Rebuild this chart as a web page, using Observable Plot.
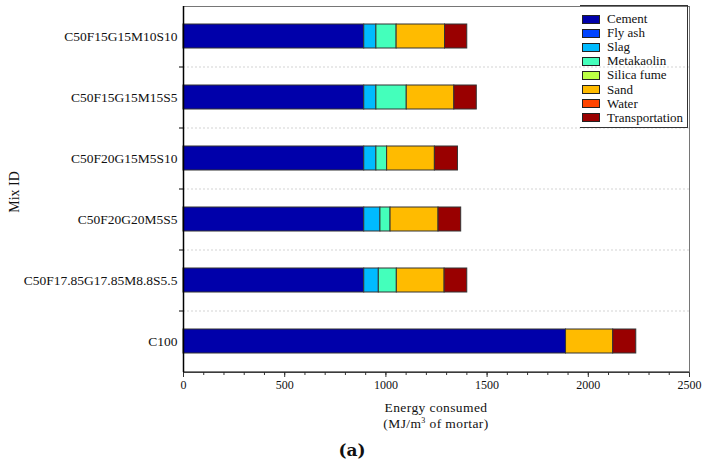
<!DOCTYPE html>
<html><head><meta charset="utf-8">
<script src="https://cdn.jsdelivr.net/npm/d3@7"></script>
<script src="https://cdn.jsdelivr.net/npm/@observablehq/plot@0.6"></script>
<style>
body{margin:0;background:#fff;}
#wrap{position:relative;width:708px;height:476px;font-family:"Liberation Serif","Times New Roman",serif;color:#111;overflow:hidden;}
#wrap svg{position:absolute;left:0;top:0;}
.lbl{position:absolute;white-space:nowrap;}
#legend{position:absolute;left:580px;top:5px;width:108px;height:123px;border:1px solid #333;border-left:none;box-sizing:border-box;}
.item{position:absolute;left:2px;height:14px;font-size:13px;line-height:14px;white-space:nowrap;}
.sw{display:inline-block;width:16px;height:7px;border:1px solid #222;vertical-align:middle;margin-right:7px;position:relative;top:-1px;}
</style></head><body><div id="wrap"></div>
<script>
const mixes = ["C50F15G15M10S10","C50F15G15M15S5","C50F20G15M5S10","C50F20G20M5S5","C50F17.85G17.85M8.8S5.5","C100"];
const components = ["Cement","Fly ash","Slag","Metakaolin","Silica fume","Sand","Water","Transportation"];
const colors = ["#0000aa","#0044ff","#00bbff","#44ffbb","#bbff44","#ffbb00","#ff4400","#990000"];
const cement         = [893, 893, 893, 893, 893, 1890];
const flyAsh         = [0, 0, 0, 0, 0, 0];
const slag           = [60, 60, 60, 80, 72, 0];
const metakaolin     = [100, 150, 53, 50, 89, 0];
const silicaFume     = [0, 0, 0, 0, 0, 0];
const sand           = [239, 235, 236, 237, 236, 233];
const water          = [0, 0, 0, 0, 0, 0];
const transportation = [110, 111, 114, 112, 112, 114];
const xTicks = [0, 500, 1000, 1500, 2000, 2500];
const xMinorTicks = d3.range(0, 2501, 100);

const series = [cement, flyAsh, slag, metakaolin, silicaFume, sand, water, transportation];
const rows = mixes.flatMap((m, i) => components.map((c, j) => ({mix: m, component: c, value: series[j][i]})))
  .filter(d => d.value > 0);

const W = 708, H = 400, mt = 6, mb = 28, ml = 183, mr = 19;
const step = (H - mt - mb) / mixes.length;
const xPerPx = 2500 / (W - ml - mr);

const plot = Plot.plot({
  width: W, height: H,
  marginTop: mt, marginBottom: mb, marginLeft: ml, marginRight: mr,
  style: {fontFamily: '"Liberation Serif", "Times New Roman", serif', background: "#fff", color: "#111", overflow: "visible"},
  x: {domain: [0, 2500], label: null},
  y: {domain: mixes, paddingInner: 0.6, paddingOuter: 0.3, label: null},
  color: {domain: components, range: colors},
  marks: [
    Plot.ruleY(mixes.slice(1), {y: d => d, dy: -step / 2, stroke: "#c8c8c8", strokeDasharray: "2,2", strokeWidth: 0.8}),
    Plot.barX(rows, {x: "value", y: "mix", fill: "component", stroke: "#333", strokeWidth: 1}),
    Plot.ruleY(mixes.slice(1), {y: d => d, dy: -step / 2, x1: -4 * xPerPx, x2: 0, stroke: "#000", strokeWidth: 1}),
    Plot.axisX({ticks: xMinorTicks, tickSize: 3, tickFormat: () => "", stroke: "#333"}),
    Plot.axisX({ticks: xTicks, tickSize: 5, fontSize: 12, tickPadding: 3, stroke: "#333", tickFormat: d3.format("d")}),
    Plot.axisY({tickSize: 0, tickPadding: 6, fontSize: 13.5}),
    Plot.frame({stroke: "#555", strokeWidth: 0.8}),
    Plot.ruleX([0], {stroke: "#000", strokeWidth: 1.5}),
    Plot.ruleY([mixes[mixes.length - 1]], {y: d => d, dy: step / 2, stroke: "#000", strokeWidth: 1.2})
  ]
});

const wrap = document.getElementById("wrap");
wrap.appendChild(plot);

function addLabel(html, css) {
  const d = document.createElement("div");
  d.className = "lbl";
  d.innerHTML = html;
  Object.assign(d.style, css);
  wrap.appendChild(d);
  return d;
}
const cx = ml + (W - ml - mr) / 2;
addLabel("Energy consumed", {left: cx + "px", top: "400px", transform: "translateX(-50%)", fontSize: "13.5px", letterSpacing: "0.4px"});
addLabel("(MJ/m<sup style='font-size:8px;vertical-align:5px;line-height:0'>3</sup> of mortar)", {left: cx + "px", top: "416px", transform: "translateX(-50%)", fontSize: "13.5px", letterSpacing: "0.4px"});
addLabel("Mix ID", {left: "15px", top: "192px", transform: "translate(-50%,-50%) rotate(-90deg)", fontSize: "14px"});
addLabel("(a)", {left: "352px", top: "450px", transform: "translate(-50%,-50%)", fontSize: "17px", fontWeight: "bold", fontFamily: '"DejaVu Serif", serif'});

const legend = document.createElement("div");
legend.id = "legend";
components.forEach((c, i) => {
  const it = document.createElement("div");
  it.className = "item";
  it.style.top = (6 + i * 14.1) + "px";
  it.innerHTML = `<span class="sw" style="background:${colors[i]}"></span>${c}`;
  legend.appendChild(it);
});
wrap.appendChild(legend);
</script>
</body></html>
